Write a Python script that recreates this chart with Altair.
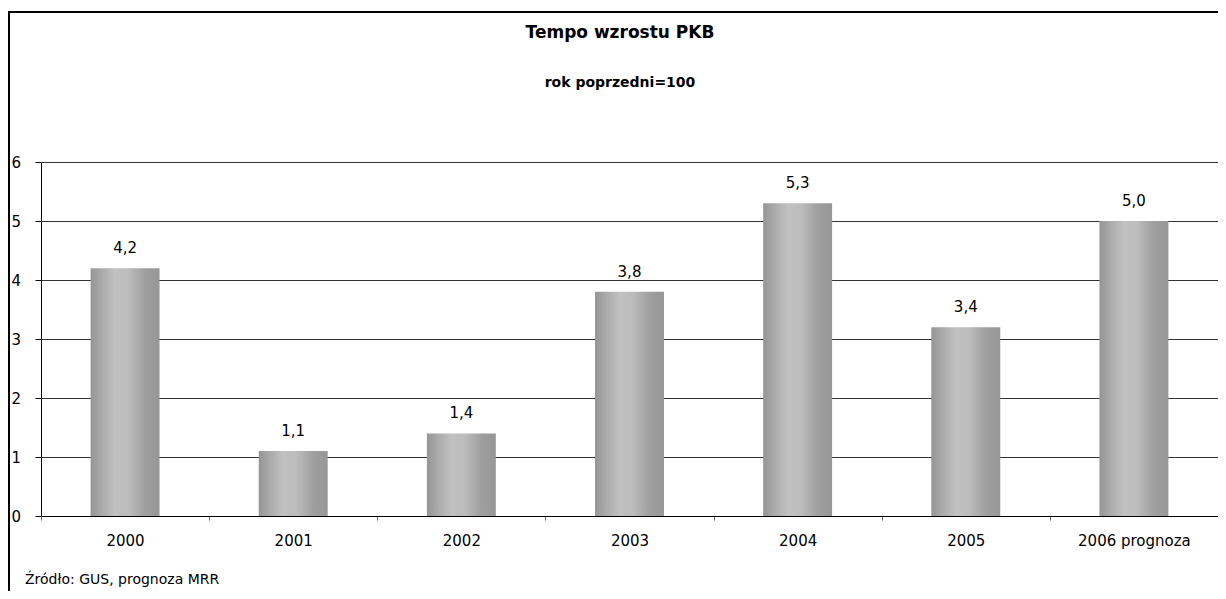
import altair as alt
import pandas as pd

# ---- data ----
years = ["2000", "2001", "2002", "2003", "2004", "2005", "2006   prognoza"]
values = [4.2, 1.1, 1.4, 3.8, 5.3, 3.2, 5.0]
value_labels = ["4,2", "1,1", "1,4", "3,8", "5,3", "3,4", "5,0"]
y_ticks = [0, 1, 2, 3, 4, 5, 6]

title_text = "Tempo wzrostu PKB"
subtitle_text = "rok poprzedni=100"
source_text = "Źródło: GUS, prognoza MRR"

df = pd.DataFrame({"rok": years, "wartosc": values, "etykieta": value_labels})
one = pd.DataFrame({"k": [0]})

W, H = 1177, 354
FONT = "DejaVu Sans"

grad = alt.Gradient(
    gradient="linear", x1=0, x2=1, y1=0, y2=0,
    stops=[
        alt.GradientStop(color="#959595", offset=0),
        alt.GradientStop(color="#a9a9a9", offset=0.15),
        alt.GradientStop(color="#c0c0c0", offset=0.35),
        alt.GradientStop(color="#bcbcbc", offset=0.55),
        alt.GradientStop(color="#9e9e9e", offset=0.8),
        alt.GradientStop(color="#979797", offset=1),
    ],
)

x_enc = alt.X(
    "rok:N", sort=years,
    scale=alt.Scale(paddingInner=0, paddingOuter=0),
    axis=alt.Axis(
        title=None, labelAngle=0, tickBand="extent", tickSize=4,
        tickColor="#666666", domainColor="#000000", labelFontSize=15,
        labelFont=FONT, labelColor="#000000", labelPadding=13,
    ),
)
y_enc = alt.Y(
    "wartosc:Q",
    scale=alt.Scale(domain=[0, 6]),
    axis=alt.Axis(
        title=None, values=y_ticks, format="d", tickSize=6, tickColor="#000000",
        gridColor="#333333", gridOpacity=1, domainColor="#000000",
        labelAlign="left", labelPadding=24, labelFontSize=15,
        labelFont=FONT, labelColor="#000000",
    ),
)

frame = alt.Chart(one).mark_rect(filled=False, stroke="#000000", strokeWidth=2).encode(
    x=alt.value(-32), x2=alt.value(W + 30), y=alt.value(-150), y2=alt.value(H + 120)
)

bars = alt.Chart(df).mark_bar(color=grad, width=alt.RelativeBandSize(0.41)).encode(
    x=x_enc, y=y_enc
)

text = alt.Chart(df).mark_text(
    dy=-12, baseline="bottom", fontSize=15, font=FONT, color="#000000"
).encode(x=alt.X("rok:N", sort=years), y="wartosc:Q", text="etykieta:N")

title = alt.Chart(one).mark_text(
    align="center", baseline="middle", fontSize=17, font=FONT,
    fontWeight="bold", color="#000000"
).encode(x=alt.value(579), y=alt.value(-129), text=alt.value(title_text))

subtitle = alt.Chart(one).mark_text(
    align="center", baseline="middle", fontSize=14, font=FONT,
    fontWeight="bold", color="#000000"
).encode(x=alt.value(579), y=alt.value(-79), text=alt.value(subtitle_text))

footer = alt.Chart(one).mark_text(
    align="left", baseline="middle", fontSize=14, font=FONT, color="#000000"
).encode(x=alt.value(-16), y=alt.value(H + 64), text=alt.value(source_text))

chart = alt.layer(frame, bars, text, title, subtitle, footer).properties(
    width=W, height=H,
    autosize=alt.AutoSizeParams(type="none"),
    padding={"left": 33, "top": 154, "right": 0, "bottom": 75},
).configure_view(stroke=None)

chart.save("out.html", embed_options={"renderer": "svg", "actions": False})
